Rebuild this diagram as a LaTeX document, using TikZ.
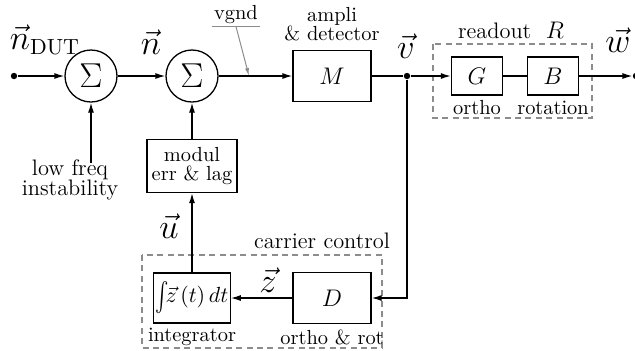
\documentclass[tikz,border=0pt]{standalone}
\usetikzlibrary{arrows.meta,positioning}
\definecolor{grp}{HTML}{8C8C8C}

\begin{document}
\begin{tikzpicture}[x=0.5pt, y=-0.5pt,
  sum/.style={circle, draw, line width=0.65pt, minimum size=26pt, inner sep=0pt, font=\fontsize{16}{16}\selectfont},
  blk/.style={rectangle, draw, line width=0.65pt, minimum width=39pt, minimum height=25.5pt, inner sep=1pt, align=center, font=\fontsize{13}{12}\selectfont},
  sblk/.style={blk, minimum width=25.5pt, minimum height=19pt},
  txt/.style={align=center, inner sep=1pt, font=\fontsize{10.2}{9.6}\selectfont},
  lbl/.style={align=center, inner sep=1pt, font=\fontsize{11.2}{10}\selectfont},
  vlbl/.style={inner sep=0pt, font=\fontsize{16}{16}\selectfont},
  dot/.style={circle, fill, inner sep=0pt, minimum size=3.2pt},
  group/.style={draw=grp, line width=0.75pt, dash pattern=on 3pt off 2.2pt},
  wire/.style={line width=0.65pt},
  arr/.style={wire, -{Latex[length=5pt, width=3pt]}},
  garr/.style={draw=grp, line width=0.5pt, -{Latex[length=4pt, width=2pt]}}
]
  \useasboundingbox (0,0) rectangle (635,350);

  % main path
  \node[dot] (src) at (14,76) {};
  \node[sum] (s1) at (91,76) {$\Sigma$};
  \node[sum] (s2) at (192,76) {$\Sigma$};
  \node[blk] (M) at (332,76) {$M$};
  \node[dot] (tap) at (407,76) {};
  \node[sblk] (G) at (477,76) {$G$};
  \node[sblk] (B) at (553,76) {$B$};
  \node[dot] (sink) at (636,76) {};

  % feedback blocks
  \node[blk, minimum width=45pt, minimum height=26.5pt, font=\fontsize{10.2}{9.6}\selectfont] (mod) at (192,166) {modul\\err \& lag};
  \node[blk, minimum width=38pt, minimum height=25pt, font=\fontsize{10.5}{11}\selectfont] (int) at (192,298) {\raisebox{-1.5pt}{\scalebox{1}[1.45]{$\int$}}$\!\vec z\,(t)\,dt$};
  \node[blk] (D) at (332,298) {$D$};

  % dashed groups
  \draw[group] (433,44) rectangle (592,118);
  \draw[group] (142,255) rectangle (382,348);

  % labels
  \node[vlbl] (nDUT) at (45,40) {$\vec n_{\mathrm{DUT}}$};
  \node[vlbl] (nlab) at (151,42) {$\vec n$};
  \node[vlbl] (vlab) at (406,46) {$\vec v$};
  \node[vlbl] (wlab) at (618,40) {$\vec w$};
  \node[vlbl] (ulab) at (169,226) {$\vec u$};
  \node[vlbl] (zlab) at (268,280) {$\vec z$};
  \node[lbl] (lf) at (70,180) {low freq\\instability};
  \node[txt] (ampli) at (332,24) {ampli\\\& detector};
  \node[txt] (vgnd) at (236,15) {vgnd};
  \node[lbl] (rdlab) at (511,30) {readout~~{\fontsize{13}{12}\selectfont$R$}};
  \node[lbl] (cclab) at (322,241) {carrier control};
  \node[txt] (ortho) at (477,108) {ortho};
  \node[txt] (rot) at (553,108) {rotation};
  \node[txt] (intlab) at (192,337) {integrator};
  \node[txt] (odr) at (332,337) {ortho \& rot};

  % vgnd pointer
  \coordinate (vg) at (249,76);
  \draw[draw=grp, line width=0.8pt] (vgnd.south west) -- (vgnd.south east);
  \draw[garr] (vgnd.south) -- (vg);

  % connectors
  \draw[arr] (src) -- (s1);
  \draw[arr] (s1) -- (s2);
  \draw[arr] (s2) -- (M);
  \draw[wire] (M) -- (tap);
  \draw[arr] (tap) -- (G);
  \draw[wire] (G) -- (B);
  \draw[arr] (B) -- (sink);
  \draw[arr] ([yshift=-3pt]lf.north -| s1) -- (s1);
  \draw[arr] (mod) -- (s2);
  \draw[arr] (int) -- (mod);
  \draw[arr] (tap) |- (D);
  \draw[arr] (D) -- (int);
\end{tikzpicture}
\end{document}
